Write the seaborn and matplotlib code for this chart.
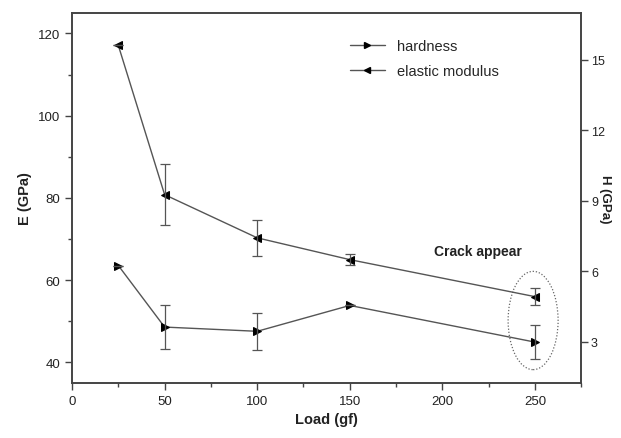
import matplotlib
matplotlib.use("Agg")
import matplotlib.pyplot as plt
from matplotlib.patches import Ellipse
from matplotlib.ticker import MultipleLocator
from matplotlib.lines import Line2D
import seaborn as sns
import pandas as pd

load = [25, 50, 100, 150, 250]
modulus = [117.1, 80.8, 70.3, 65.0, 56.0]
modulus_err = [0.0, 7.4, 4.3, 1.4, 2.1]
hardness = [6.25, 3.63, 3.45, 4.55, 2.99]
hardness_err = [0.0, 0.93, 0.8, 0.0, 0.74]

sns.set_style("ticks")
plt.rcParams['font.family'] = ['Liberation Sans', 'DejaVu Sans']

fig = plt.figure(figsize=(6.21, 4.39), dpi=100)
ax = fig.add_axes([0.116, 0.1253, 0.820, 0.843])
ax2 = ax.twinx()

lc = "#555555"
dfE = pd.DataFrame({"load": load, "E": modulus})
dfH = pd.DataFrame({"load": load, "H": hardness})

sns.lineplot(data=dfE, x="load", y="E", ax=ax, color=lc, lw=1.0, marker="<",
             markersize=6, markerfacecolor="black", markeredgecolor="black", legend=False)
ax.errorbar(load, modulus, yerr=modulus_err, fmt="none", ecolor=lc, elinewidth=0.9, capsize=3.5, capthick=0.9)

sns.lineplot(data=dfH, x="load", y="H", ax=ax2, color=lc, lw=1.0, marker=">",
             markersize=6, markerfacecolor="black", markeredgecolor="black", legend=False)
ax2.errorbar(load, hardness, yerr=hardness_err, fmt="none", ecolor=lc, elinewidth=0.9, capsize=3.5, capthick=0.9)

ax.set_xlim(0, 275)
ax.set_ylim(35, 125)
ax2.set_ylim(1.25, 17)
ax.xaxis.set_major_locator(MultipleLocator(50))
ax.xaxis.set_minor_locator(MultipleLocator(25))
ax.yaxis.set_major_locator(MultipleLocator(20))
ax.yaxis.set_minor_locator(MultipleLocator(10))
ax2.yaxis.set_major_locator(MultipleLocator(3))

for a in (ax, ax2):
    for s in a.spines.values():
        s.set_color("#444444")
        s.set_linewidth(1.2)
    a.tick_params(which="major", length=5, width=1, colors="#444444", labelcolor="#222222", labelsize=9.5)
    a.tick_params(which="minor", length=3, width=1, colors="#444444")
ax2.tick_params(which="major", labelsize=9, pad=2)

ax.set_xlabel("Load (gf)", fontsize=10.5, fontweight="bold", color="#222222")
ax.set_ylabel("E (GPa)", fontsize=10.5, fontweight="bold", color="#222222")
ax2.set_ylabel("H (GPa)", fontsize=9.5, fontweight="bold", color="#222222", rotation=270, labelpad=4)

handles = [Line2D([], [], color=lc, lw=1.0, marker=">", markersize=5, markerfacecolor="black", markeredgecolor="black"),
           Line2D([], [], color=lc, lw=1.0, marker="<", markersize=5, markerfacecolor="black", markeredgecolor="black")]
ax.legend(handles, ["hardness", "elastic modulus"], loc="upper left", bbox_to_anchor=(0.52, 0.965),
          frameon=False, fontsize=10.5, handlelength=2.4, labelspacing=0.75)

ell = Ellipse((249, 50.2), 27, 23.9, fill=False, ls=(0, (1, 1.5)), lw=0.9, edgecolor="#666666")
ax.add_patch(ell)
ax.text(219, 67.2, "Crack appear", ha="center", va="center", fontsize=10, fontweight="bold", color="#222222")

fig.savefig("out.png", dpi=100)
